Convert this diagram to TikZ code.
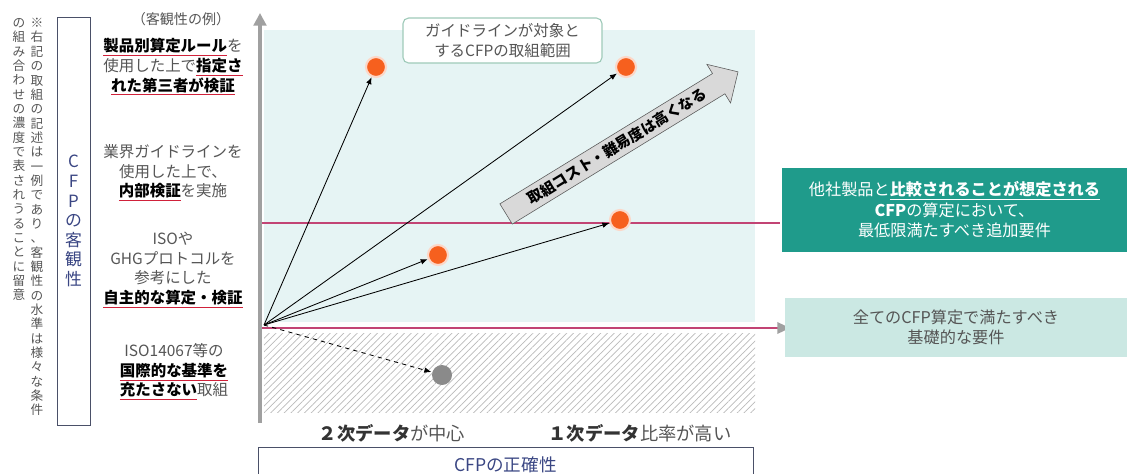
\documentclass[tikz,border=0pt]{standalone}
\usepackage{fontspec}
\setmainfont{Noto Sans CJK JP}
\usepackage{xcolor}
\usetikzlibrary{shapes,arrows,arrows.meta,patterns,patterns.meta,positioning}

\definecolor{dotorange}{HTML}{F6601E}
\definecolor{dotgray}{HTML}{8A8A8A}
\definecolor{bandbg}{HTML}{E6F4F4}
\definecolor{magline}{HTML}{C24474}
\definecolor{axisgray}{HTML}{A0A0A0}
\definecolor{tealdark}{HTML}{1F9B8B}
\definecolor{teallight}{HTML}{CBE8E3}
\definecolor{navytext}{HTML}{3A4683}
\definecolor{boxnavy}{HTML}{4A5068}
\definecolor{textgray}{HTML}{555555}
\definecolor{guidegreen}{HTML}{9FCAB9}
\definecolor{ulred}{HTML}{D0213A}

\newcommand{\kw}[1]{\textcolor{ulred}{\underline{\textcolor{black}{\textbf{#1}}}}}
\newcommand{\wkw}[1]{\underline{\textbf{#1}}}

\begin{document}
\begin{tikzpicture}[x=0.025cm,y=-0.025cm]
  \tikzstyle{dot}=[circle, fill=dotorange, draw=dotorange!25, line width=1.5pt, minimum size=0.5cm, inner sep=0pt]
  \tikzstyle{conn}=[-{Latex[length=5pt,width=4pt]}, line width=0.6pt]
  \tikzstyle{ex}=[align=center, text=textgray, font=\fontsize{11}{13.9}\selectfont]
  \tikzstyle{note}=[align=center, text=textgray, inner sep=0pt, anchor=north, font=\fontsize{9}{10.2}\selectfont]
  \tikzstyle{axlabel}=[text=textgray, font=\fontsize{13}{15}\selectfont]
  \tikzstyle{reqbox}=[align=center, minimum width=8.6cm, font=\fontsize{11.5}{14.6}\selectfont]
  \tikzstyle{costarrow}=[single arrow, draw=black!65, fill=gray!30, minimum height=6.8cm, single arrow head extend=0.27cm, inner xsep=2pt, inner ysep=3.2pt, font=\fontsize{10.5}{10.5}\selectfont\bfseries]

  \useasboundingbox (0,0) rectangle (1127,474);

  \fill[bandbg] (264,30) rectangle (755,322);
  \fill[pattern={Lines[angle=45,distance=3.4pt,line width=0.5pt]}, pattern color=gray!55] (264,333) rectangle (755,412);

  \node[note] (note1) at (37,18) {※\\右\\記\\の\\取\\組\\の\\記\\述\\は\\一\\例\\で\\あ\\り\\、\\客\\観\\性\\の\\水\\準\\は\\様\\々\\な\\条\\件};
  \node[note] (note2) at (19,18) {の\\組\\み\\合\\わ\\せ\\の\\濃\\度\\で\\表\\さ\\れ\\う\\る\\こ\\と\\に\\留\\意};

  \node[draw=boxnavy, minimum width=0.825cm, minimum height=10.2cm, align=center, text=navytext, font=\fontsize{12}{13.9}\selectfont] (yaxis) at (73.5,221) {C\\F\\P\\の\\客\\観\\性};

  \node[ex, font=\fontsize{10}{12}\selectfont] (ex0) at (181,19) {（客観性の例）};
  \node[ex] (ex1) at (173,67) {\kw{製品別算定ルール}を\\使用した上で\kw{指定さ}\\\kw{れた第三者が検証}};
  \node[ex] (ex2) at (173,173) {業界ガイドラインを\\使用した上で、\\\kw{内部検証}を実施};
  \node[ex] (ex3) at (173,270) {ISOや\\GHGプロトコルを\\参考にした\\\kw{自主的な算定・検証}};
  \node[ex] (ex4) at (174,372) {ISO14067等の\\\kw{国際的な基準を}\\\kw{充たさない}取組};

  \draw[magline, line width=1.6pt] (262,223) -- (780,223);
  \draw[magline, line width=1.8pt, -{Triangle[length=9pt,width=8pt,color=axisgray]}] (262,328) -- (790,328);
  \draw[axisgray, line width=2.2pt, -{Triangle[length=9pt,width=9pt]}] (260,423) -- (260,13);

  \node[rounded corners=4pt, draw=guidegreen, fill=white, line width=0.8pt, align=center, text=textgray, minimum width=4.975cm, minimum height=1.125cm, font=\fontsize{11}{14}\selectfont] (range) at (502.5,40.5) {ガイドラインが対象と\\するCFPの取組範囲};

  \node[costarrow, rotate=31.5] (cost) at (617,146) {取組コスト・難易度は高くなる};

  \coordinate (o) at (264,325);
  \node[dot] (p1) at (376,67) {};
  \node[dot] (p2) at (626,67) {};
  \node[dot] (p3) at (620,220) {};
  \node[dot] (p4) at (438,255) {};
  \node[dot, fill=dotgray, draw=none] (p5) at (442,375) {};
  \draw[conn] (o) -- (p1);
  \draw[conn] (o) -- (p2);
  \draw[conn] (o) -- (p3);
  \draw[conn] (o) -- (p4);
  \draw[conn, dashed] (o) -- (p5);

  \node[reqbox, fill=tealdark, text=white, minimum height=2.1cm] (req2) at (954.5,210) {他社製品と\wkw{比較されることが想定される}\\\textbf{CFP}の算定において、\\最低限満たすべき追加要件};
  \node[reqbox, fill=teallight, text=textgray, minimum width=8.55cm, minimum height=1.475cm] (req1) at (956,327.5) {全てのCFP算定で満たすべき\\基礎的な要件};

  \node[axlabel] (low) at (392,433) {\textcolor{black!80}{\textbf{２次データ}}が中心};
  \node[axlabel] (high) at (640,433) {\textcolor{black!80}{\textbf{１次データ}}比率が高い};
  \node[draw=boxnavy, anchor=north, minimum width=12.375cm, minimum height=0.9cm, text=navytext, font=\fontsize{12.5}{14}\selectfont] (xaxis) at (505.5,447) {CFPの正確性};
\end{tikzpicture}
\end{document}
